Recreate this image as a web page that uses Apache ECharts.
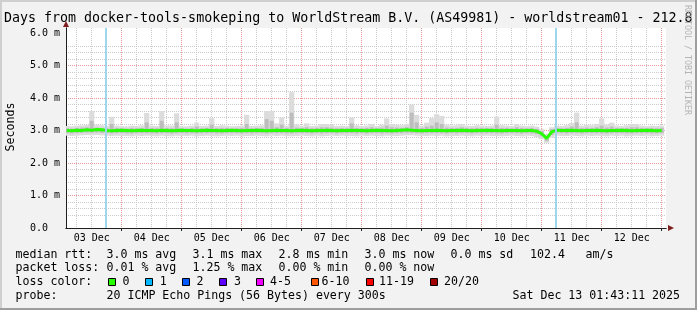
<!DOCTYPE html>
<html><head><meta charset="utf-8">
<script src="https://cdn.jsdelivr.net/npm/echarts@6/dist/echarts.min.js"></script>
<style>html,body{margin:0;padding:0;background:#f2f2f2}#c{width:697px;height:310px}</style>
</head><body><div id="c"></div>
<script>
// ---------- data ----------
const chartTitle = 'Days from docker-tools-smokeping to WorldStream B.V. (AS49981) - worldstream01 - 212.8';
const dayLabels = ['03 Dec','04 Dec','05 Dec','06 Dec','07 Dec','08 Dec','09 Dec','10 Dec','11 Dec','12 Dec'];
const yTickLabels = ['0.0  ','1.0 m','2.0 m','3.0 m','4.0 m','5.0 m','6.0 m'];
// hours since 03 Dec 00:00; window ends Sat Dec 13 01:43:11
const windowStartHour = 1 + 43/60 + 11/3600;
const windowHours = 240;
const eventHours = [17.7, 197.7];
const sampleStartHour = 2, sampleStepHours = 2;

const median = [
3.00,2.99,3.01,3.00,3.02,3.01,3.03,3.02,3.00,2.99,
3.00,3.01,3.00,2.99,3.00,3.01,3.00,3.00,2.99,3.01,
3.00,2.99,3.00,3.01,3.00,3.00,2.99,3.00,3.01,3.00,
3.00,2.99,3.00,3.01,3.00,2.99,3.00,3.00,3.01,3.00,
2.99,3.00,3.01,3.00,3.00,2.99,3.00,3.01,3.00,2.99,
3.00,3.00,3.01,3.00,2.99,3.00,3.00,3.01,3.00,3.00,
2.99,3.00,3.01,3.00,3.00,2.99,3.00,3.01,3.02,3.01,
3.00,2.99,3.00,3.00,3.01,3.00,2.99,3.00,3.00,3.01,
3.00,2.99,3.00,3.00,3.01,3.00,3.00,2.99,3.00,3.00,
3.00,2.99,3.00,3.00,2.98,2.90,2.76,2.96,3.01,3.00,
3.00,3.01,3.00,2.99,3.00,3.00,3.01,3.00,2.99,3.00,
3.00,3.01,3.00,2.99,3.00,3.00,3.01,3.00,2.99,3.00];
const smokeMax = [
3.14,3.13,3.15,3.16,3.17,3.60,3.18,3.16,3.14,3.42,
3.15,3.14,3.13,3.15,3.14,3.16,3.54,3.15,3.14,3.60,
3.16,3.15,3.53,3.14,3.13,3.15,3.24,3.14,3.15,3.38,
3.14,3.16,3.15,3.13,3.14,3.15,3.48,3.14,3.15,3.16,
3.60,3.60,3.22,3.40,3.15,4.18,3.18,3.15,3.22,3.14,
3.15,3.20,3.20,3.18,3.14,3.15,3.14,3.40,3.16,3.14,
3.15,3.20,3.14,3.18,3.37,3.20,3.18,3.16,3.20,3.80,
3.48,3.15,3.24,3.38,3.50,3.45,3.18,3.15,3.16,3.20,
3.15,3.14,3.16,3.15,3.14,3.15,3.43,3.16,3.15,3.14,
3.20,3.15,3.14,3.15,3.12,3.05,2.90,3.10,3.15,3.14,
3.16,3.23,3.55,3.15,3.18,3.16,3.20,3.37,3.18,3.24,
3.15,3.14,3.16,3.20,3.20,3.15,3.14,3.15,3.14,3.15];
const smokeHi = [
3.07,3.06,3.08,3.09,3.10,3.30,3.09,3.08,3.07,3.20,
3.08,3.07,3.06,3.08,3.07,3.08,3.25,3.08,3.07,3.30,
3.08,3.07,3.25,3.07,3.06,3.08,3.12,3.07,3.08,3.18,
3.07,3.08,3.08,3.06,3.07,3.08,3.20,3.07,3.08,3.08,
3.35,3.30,3.10,3.18,3.08,3.55,3.09,3.08,3.10,3.07,
3.08,3.10,3.10,3.09,3.07,3.08,3.07,3.22,3.08,3.07,
3.08,3.10,3.07,3.09,3.15,3.10,3.09,3.08,3.10,3.55,
3.25,3.08,3.12,3.15,3.25,3.20,3.09,3.08,3.08,3.10,
3.08,3.07,3.08,3.08,3.07,3.08,3.18,3.08,3.08,3.07,
3.10,3.08,3.07,3.08,3.05,2.98,2.84,3.04,3.08,3.07,
3.08,3.12,3.25,3.08,3.09,3.08,3.10,3.15,3.09,3.12,
3.08,3.07,3.08,3.10,3.10,3.08,3.07,3.08,3.07,3.08];
const smokeLo = [
2.92,2.91,2.92,2.93,2.94,2.93,2.94,2.93,2.92,2.91,
2.92,2.92,2.91,2.91,2.92,2.92,2.92,2.91,2.91,2.92,
2.92,2.91,2.92,2.92,2.91,2.92,2.91,2.92,2.92,2.92,
2.91,2.91,2.92,2.92,2.92,2.91,2.92,2.91,2.92,2.92,
2.91,2.92,2.92,2.92,2.91,2.91,2.92,2.92,2.92,2.91,
2.92,2.91,2.92,2.92,2.91,2.92,2.92,2.92,2.91,2.92,
2.91,2.92,2.92,2.91,2.92,2.91,2.92,2.92,2.93,2.93,
2.92,2.91,2.92,2.92,2.92,2.92,2.91,2.92,2.91,2.92,
2.92,2.91,2.92,2.91,2.92,2.92,2.91,2.91,2.92,2.92,
2.92,2.91,2.92,2.91,2.89,2.82,2.68,2.86,2.92,2.92,
2.91,2.92,2.92,2.91,2.92,2.92,2.92,2.91,2.91,2.92,
2.92,2.92,2.91,2.91,2.92,2.92,2.92,2.91,2.91,2.92];
const smokeMin = [
2.84,2.83,2.84,2.85,2.86,2.85,2.86,2.85,2.84,2.83,
2.84,2.83,2.83,2.82,2.84,2.83,2.84,2.83,2.82,2.84,
2.83,2.82,2.84,2.83,2.83,2.84,2.82,2.83,2.84,2.83,
2.82,2.83,2.84,2.83,2.84,2.82,2.83,2.83,2.84,2.83,
2.82,2.84,2.83,2.84,2.83,2.82,2.83,2.84,2.83,2.82,
2.84,2.82,2.83,2.84,2.83,2.84,2.83,2.83,2.82,2.84,
2.83,2.84,2.83,2.82,2.84,2.83,2.83,2.84,2.85,2.85,
2.84,2.83,2.83,2.84,2.83,2.84,2.82,2.83,2.83,2.84,
2.83,2.82,2.84,2.83,2.84,2.83,2.83,2.82,2.83,2.84,
2.83,2.82,2.84,2.83,2.80,2.74,2.62,2.78,2.84,2.83,
2.83,2.84,2.83,2.82,2.84,2.83,2.84,2.83,2.82,2.84,
2.83,2.84,2.82,2.83,2.84,2.83,2.84,2.82,2.83,2.84];

const rttRow = [['median rtt:',16],['3.0 ms avg',107],['3.1 ms max',193],['2.8 ms min',279],['3.0 ms now',365],['0.0 ms sd',451],['102.4',530.5],['am/s',586]];
const lossRow = [['packet loss:',16],['0.01 % avg',107],['1.25 % max',193],['0.00 % min',279],['0.00 % now',365]];
const lossColorLabels = ['0','1','2','3','4-5','6-10','11-19','20/20'];
const lossColors = ['#26ff00','#00b8ff','#0059ff','#5e00ff','#ee00ff','#ff5500','#ff0000','#a10000'];
const lossBoxX = [108,145,182,219,256,311,366,430];
const lossLabelX = [123,160.3,197,234.5,270.5,322,379.5,444.5];
const probeRow = [['probe:',16],['20 ICMP Echo Pings (56 Bytes) every 300s',107],['Sat Dec 13 01:43:11 2025',513]];

// ---------- build ----------
const X_MIN = windowStartHour, X_MAX = windowStartHour + windowHours;
const Y_MAX = 6.154;
const PLOT_LEFT = 66, PLOT_W = 600, PLOT_TOP = 28, PLOT_H = 200;
const pxPerHour = PLOT_W / windowHours;
const times = median.map((_, i) => sampleStartHour + sampleStepHours * i);
const dayNoon = dayLabels.map((_, i) => 12 + 24 * i);
const midnights = dayLabels.map((_, i) => 24 * (i + 1));
const yMajor = yTickLabels.map((_, i) => i);
const yMinor = [];
for (let j = 1; j <= 30; j++) if (j % 5 !== 0) yMinor.push(j / 5);

const mono = 'DejaVu Sans Mono';
const GRID_MINOR = '#cbcbcb', GRID_MAJOR = '#eb9898';
const smokeData = times.map((t, i) => [t, smokeMin[i], smokeLo[i], smokeHi[i], smokeMax[i]]);

function renderSmoke(params, api) {
  const t = api.value(0);
  const w = api.size([sampleStepHours, 0])[0] * 0.8;
  const pMin = api.coord([t, api.value(1)]);
  const pLo = api.coord([t, api.value(2)]);
  const pHi = api.coord([t, api.value(3)]);
  const pMax = api.coord([t, api.value(4)]);
  const x0 = pMin[0] - w / 2;
  return {
    type: 'group',
    children: [
      { type: 'rect', shape: { x: x0 - 0.6, y: pMax[1], width: w + 1.2, height: pMin[1] - pMax[1] }, style: { fill: '#dcdcdc' } },
      { type: 'rect', shape: { x: x0, y: pHi[1], width: w, height: pLo[1] - pHi[1] }, style: { fill: '#bdbdbd' } }
    ]
  };
}

const graphics = [];
graphics.push({ type: 'rect', shape: { x: 0, y: 0, width: 697, height: 2 }, style: { fill: '#cfcfcf' }, z: 100 });
graphics.push({ type: 'rect', shape: { x: 0, y: 0, width: 2, height: 310 }, style: { fill: '#cfcfcf' }, z: 100 });
graphics.push({ type: 'rect', shape: { x: 695, y: 0, width: 2, height: 310 }, style: { fill: '#9e9e9e' }, z: 100 });
graphics.push({ type: 'rect', shape: { x: 0, y: 308, width: 697, height: 2 }, style: { fill: '#9e9e9e' }, z: 100 });
const txt = (text, x, y, size, extra) => ({
  type: 'text', x, y, z: 100, silent: true,
  style: Object.assign({ text, fill: '#000', font: size + 'px "' + mono + '"', align: 'left', verticalAlign: 'middle' }, extra || {})
});
graphics.push(txt(chartTitle, 4, 18.5, 13.3));
graphics.push(Object.assign(txt('Seconds', 10.8, 127, 11.6, { align: 'center' }), { rotation: Math.PI / 2 }));
graphics.push(Object.assign(txt('RRDTOOL / TOBI OETIKER', 687, 5, 8.3, { fill: '#b4b4b4' }), { rotation: -Math.PI / 2 }));
rttRow.forEach(([t, x]) => graphics.push(txt(t, x - 0.5, 254.5, 11.6)));
lossRow.forEach(([t, x]) => graphics.push(txt(t, x - 0.5, 268.3, 11.6)));
graphics.push(txt('loss color:', 15.5, 282, 11.6));
lossColorLabels.forEach((t, i) => {
  graphics.push({ type: 'rect', z: 100, shape: { x: lossBoxX[i] + 0.5, y: 278.5, width: 7, height: 7 }, style: { fill: lossColors[i], stroke: '#000', lineWidth: 1 } });
  graphics.push(txt(t, lossLabelX[i] - 0.5, 282, 11.6));
});
probeRow.forEach(([t, x]) => graphics.push(txt(t, x - 0.5, 295.8, 11.6)));

// second grid: same time scale but starting at 03 Dec 00:00 so that 6h / 24h intervals line up
const gridLeft2 = PLOT_LEFT - X_MIN * pxPerHour;
const hidden = { axisLine: { show: false }, axisTick: { show: false }, axisLabel: { show: false } };
const dotted = (color) => ({ show: true, showMinLine: false, showMaxLine: false, lineStyle: { color, type: [1, 1], width: 1 } });

const chart = echarts.init(document.getElementById('c'), null, { renderer: 'canvas' });
chart.setOption({
  backgroundColor: '#f2f2f2',
  animation: false,
  grid: [
    { left: PLOT_LEFT, top: PLOT_TOP, width: PLOT_W, height: PLOT_H, show: true, backgroundColor: '#ffffff', borderWidth: 0, z: -5, outerBoundsMode: 'none', containLabel: false },
    { left: gridLeft2, top: PLOT_TOP, width: X_MAX * pxPerHour, height: PLOT_H, show: false, outerBoundsMode: 'none', containLabel: false }
  ],
  xAxis: [
    { type: 'value', gridIndex: 0, position: 'bottom', min: X_MIN, max: X_MAX, z: 1,
      axisLine: { show: true, onZero: false, lineStyle: { color: '#1f1f1f', width: 1 } },
      axisTick: { show: true, customValues: midnights, length: 3, lineStyle: { color: '#1f1f1f' } },
      axisLabel: { show: true, customValues: dayNoon, hideOverlap: false, margin: 5,
        formatter: (v) => dayLabels[Math.round((v - 12) / 24)], fontFamily: mono, fontSize: 10, color: '#000' },
      splitLine: { show: false } },
    { type: 'value', gridIndex: 0, position: 'bottom', min: X_MIN, max: X_MAX, z: 0,
      axisLine: { show: true, onZero: false, symbol: ['none', 'triangle'], symbolSize: [6, 6], symbolOffset: [0, 5], lineStyle: { color: '#801f1f', width: 1 } },
      axisTick: { show: false }, axisLabel: { show: false }, splitLine: { show: false } },
    // 6-hour grid; every 4th line (midnight) in the major colour
    Object.assign({ type: 'value', gridIndex: 1, position: 'bottom', min: 0, max: X_MAX, interval: 6, z: -2,
      splitLine: { show: true, showMinLine: false, showMaxLine: false,
        lineStyle: { color: [GRID_MINOR, GRID_MINOR, GRID_MINOR, GRID_MAJOR], type: [1, 1], width: 1 } } }, hidden)
  ],
  yAxis: [
    { type: 'value', gridIndex: 0, position: 'left', min: 0, max: Y_MAX, z: 1,
      axisLine: { show: true, onZero: false, lineStyle: { color: '#1f1f1f', width: 1 } },
      axisTick: { show: false, customValues: yMajor },
      axisLabel: { show: true, customValues: yMajor, hideOverlap: false, margin: 6,
        formatter: (v) => yTickLabels[Math.round(v)], fontFamily: mono, fontSize: 10, color: '#000' },
      splitLine: dotted(GRID_MAJOR) },
    Object.assign({ type: 'value', gridIndex: 0, position: 'left', min: 0, max: Y_MAX, z: -2,
      splitLine: dotted(GRID_MINOR) }, hidden, { axisTick: { show: false, customValues: yMinor } }),
    { type: 'value', gridIndex: 0, position: 'left', min: 0, max: Y_MAX, z: 0,
      axisLine: { show: true, onZero: false, symbol: ['none', 'triangle'], symbolSize: [6, 6], symbolOffset: [0, 4], lineStyle: { color: '#801f1f', width: 1 } },
      axisTick: { show: false }, axisLabel: { show: false }, splitLine: { show: false } },
    Object.assign({ type: 'value', gridIndex: 1, min: 0, max: Y_MAX, splitLine: { show: false } }, hidden)
  ],
  series: [
    { name: 'smoke', type: 'custom', renderItem: renderSmoke, data: smokeData, silent: true, z: 2,
      xAxisIndex: 0, yAxisIndex: 0, encode: { x: 0, y: [1, 2, 3, 4] }, clip: true },
    { name: 'median', type: 'line', xAxisIndex: 0, yAxisIndex: 0, data: times.map((t, i) => [t, median[i]]), symbol: 'none', silent: true, z: 3,
      lineStyle: { color: '#26ff00', width: 3 },
      markLine: { silent: true, symbol: ['none', 'none'], label: { show: false }, animation: false,
        lineStyle: { color: '#9ed6ee', width: 2, type: 'solid' },
        data: eventHours.map(h => ({ xAxis: h })) } }
  ],
  graphic: graphics
});
</script></body></html>
